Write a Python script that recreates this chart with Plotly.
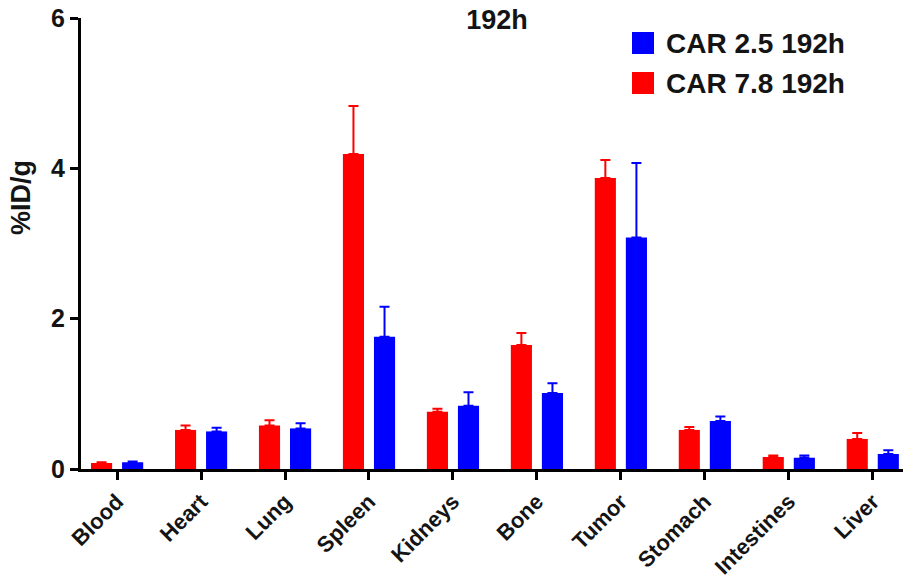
import plotly.graph_objects as go

categories = ["Blood", "Heart", "Lung", "Spleen", "Kidneys", "Bone", "Tumor", "Stomach", "Intestines", "Liver"]
car78_values = [0.08, 0.52, 0.58, 4.19, 0.76, 1.65, 3.87, 0.52, 0.16, 0.40]
car78_errors = [0.01, 0.06, 0.07, 0.64, 0.04, 0.16, 0.24, 0.04, 0.02, 0.08]
car25_values = [0.09, 0.50, 0.54, 1.76, 0.84, 1.01, 3.08, 0.64, 0.15, 0.20]
car25_errors = [0.01, 0.05, 0.07, 0.40, 0.18, 0.13, 0.99, 0.06, 0.03, 0.05]
series_names = ["CAR 7.8 192h", "CAR 2.5 192h"]
series_colors = ["#ff0000", "#0000ff"]
y_ticks = [0, 2, 4, 6]
title_text = "192h"
y_title = "%ID/g"

W, H = 903, 582
L, R, T, B = 81, 903, 18, 469
FONT = "Arial, Liberation Sans, Helvetica, sans-serif"
FS = 27
TXT = "#141414"

def px(x):
    return (x - L) / (R - L)

def py(y):
    return (B - y) / (B - T)

def f(size=FS):
    return dict(family=FONT, size=size, color=TXT, weight="bold")

fig = go.Figure()
for name, vals, errs, col in [
    (series_names[0], car78_values, car78_errors, series_colors[0]),
    (series_names[1], car25_values, car25_errors, series_colors[1]),
]:
    fig.add_trace(go.Bar(
        x=categories, y=vals, name=name,
        marker=dict(color=col, line=dict(width=0)),
        error_y=dict(type="data", array=errs, arrayminus=[0] * len(errs),
                     symmetric=False, color=col, thickness=2, width=5),
        showlegend=False,
    ))

# legend drawn as shapes + annotations (blue listed first as in reference)
legend_rows = [(series_names[1], series_colors[1], 43), (series_names[0], series_colors[0], 83)]
for name, col, yc in legend_rows:
    fig.add_shape(type="rect", xref="paper", yref="paper",
                  x0=px(632), x1=px(654), y0=py(yc + 11), y1=py(yc - 11),
                  fillcolor=col, line=dict(width=0))
    fig.add_annotation(xref="paper", yref="paper", x=px(664), y=py(yc),
                       xanchor="left", yanchor="middle", showarrow=False,
                       text=name, font=f(28))

# y-axis title
fig.add_annotation(xref="paper", yref="paper", x=px(21), y=py(198),
                   xanchor="center", yanchor="middle", showarrow=False,
                   textangle=-90, text=y_title, font=f())

fig.update_layout(
    width=W, height=H,
    margin=dict(l=L, r=W - R, t=T, b=H - B, pad=0, autoexpand=False),
    plot_bgcolor="white", paper_bgcolor="white",
    barmode="group", bargap=0.26, bargroupgap=0.32,
    title=dict(text=title_text, x=497 / W, xanchor="center", xref="container",
               y=1 - 20 / H, yanchor="middle", yref="container", font=f()),
    font=f(),
)
fig.update_xaxes(
    range=[-0.43, 9.36], showline=True, linewidth=3, linecolor="black",
    ticks="outside", ticklen=8, tickwidth=3, tickcolor="black",
    tickangle=-45, showgrid=False, zeroline=False, automargin=False,
    tickfont=f(22),
)
fig.update_yaxes(
    range=[0, 6], tickvals=y_ticks, showline=True, linewidth=3, linecolor="black",
    ticks="outside", ticklen=8, tickwidth=3, tickcolor="black",
    showgrid=False, zeroline=False, automargin=False,
    tickfont=f(25),
)

fig.write_html("out.html", config={"displayModeBar": False},
               post_script="document.body.style.margin='0';document.body.style.overflow='hidden';")
